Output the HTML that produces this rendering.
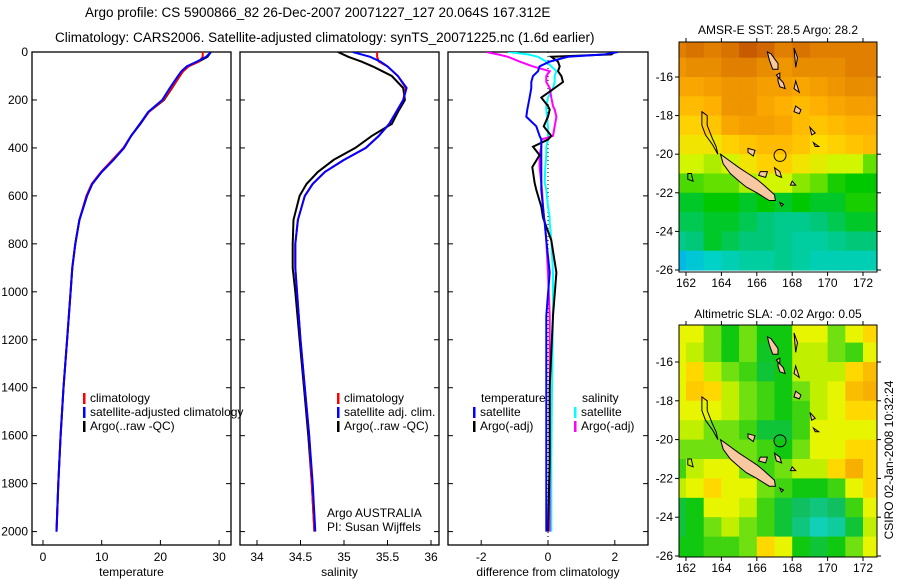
<!DOCTYPE html>
<html><head><meta charset="utf-8"><style>
body{margin:0;background:#fff;}
svg{display:block;font-family:"Liberation Sans",sans-serif;}
</style></head><body>
<svg id="chart" width="900" height="580" viewBox="0 0 900 580" xmlns="http://www.w3.org/2000/svg">
<text x="85" y="17" font-size="13.5">Argo profile: CS 5900866_82 26-Dec-2007 20071227_127 20.064S 167.312E</text>
<text x="55" y="42" font-size="13.5">Climatology: CARS2006. Satellite-adjusted climatology: synTS_20071225.nc (1.6d earlier)</text>
</svg>
<script>
// ---- profile data ----
const depths=[0,20,40,60,80,100,150,200,250,300,350,400,450,500,550,600,700,800,900,1000,1200,1400,1600,1800,2000];
const tArgo=[28.6,28.0,26.5,24.6,23.8,23.3,22.0,20.6,18.0,16.6,15.0,13.8,12.0,10.0,8.4,7.5,6.2,5.5,5.0,4.7,4.1,3.5,3.0,2.6,2.3];
const tClim=[27.2,27.2,26.6,24.8,23.9,23.3,21.9,20.5,18.0,16.5,15.0,13.7,11.8,9.9,8.3,7.4,6.2,5.5,5.0,4.7,4.1,3.5,3.0,2.6,2.3];
const tSat=[28.6,27.8,26.2,24.5,23.6,23.0,21.6,20.3,17.9,16.5,15.0,13.8,12.0,10.0,8.4,7.5,6.2,5.5,5.0,4.7,4.1,3.5,3.0,2.6,2.3];
const sArgo=[34.93,35.05,35.2,35.33,35.44,35.55,35.68,35.7,35.62,35.55,35.32,35.13,34.88,34.7,34.57,34.49,34.42,34.41,34.41,34.44,34.49,34.54,34.59,34.63,34.66];
const sClim=[35.38,35.38,35.4,35.5,35.56,35.62,35.71,35.68,35.6,35.52,35.4,35.25,35.0,34.78,34.64,34.55,34.47,34.44,34.44,34.46,34.5,34.55,34.6,34.63,34.66];
const sSat=[35.1,35.3,35.42,35.5,35.56,35.62,35.72,35.68,35.6,35.52,35.4,35.25,35.0,34.78,34.64,34.55,34.47,34.44,34.44,34.46,34.5,34.55,34.6,34.64,34.67];
const dDepths=[0,10,20,40,60,80,100,125,150,190,225,240,270,310,350,365,395,430,480,545,575,645,690,710,785,920,1100,1400,1700,2000];
const dArgoT=[2.0,1.9,0.1,0.3,0.35,0.3,0.4,0.45,0.2,-0.2,0.0,0.05,0.0,-0.13,0.1,0.0,-0.45,-0.25,-0.47,-0.4,-0.35,-0.2,-0.15,-0.1,0.1,0.25,0.15,0.05,0.05,0.0];
const dSatT=[2.1,1.7,0.6,0.05,-0.25,-0.3,-0.45,-0.5,-0.5,-0.55,-0.6,-0.62,-0.65,-0.35,-0.25,-0.2,-0.2,-0.2,-0.2,-0.2,-0.2,-0.15,-0.12,-0.1,-0.05,0.05,-0.05,-0.05,-0.05,-0.05];
const dSatS=[-1.2,-0.6,-0.3,-0.05,0.1,0.25,0.2,0.2,0.15,0.0,-0.05,-0.05,-0.03,0.0,0.0,0.0,-0.05,-0.05,-0.08,-0.1,-0.05,0.0,0.05,0.05,0.1,0.15,0.15,0.12,0.1,0.1];
const dArgoS=[-1.85,-1.5,-1.2,-0.85,-0.45,0.05,-0.05,-0.05,0.05,0.1,0.15,0.2,0.25,0.2,0.15,-0.2,-0.2,-0.25,-0.25,-0.2,-0.18,-0.15,-0.12,-0.1,-0.05,0.0,0.05,0.05,0.05,0.05];
const depthTicks=[0,200,400,600,800,1000,1200,1400,1600,1800,2000];
const tTicks=[0,10,20,30];
const sTicks=[34,34.5,35,35.5,36];
const dTicks=[-2,0,2];
// ---- map data (rows lat -14.5..-25.5, cols lon 161.5..172.5) ----
const mapLons=[161.5,162.5,163.5,164.5,165.5,166.5,167.5,168.5,169.5,170.5,171.5,172.5];
const mapLats=[-14.5,-15.5,-16.5,-17.5,-18.5,-19.5,-20.5,-21.5,-22.5,-23.5,-24.5,-25.5];
const sst=[
[29.0,29.1,29.0,29.1,29.3,29.2,29.0,29.1,29.0,29.0,29.0,29.0],
[28.8,28.9,28.9,29.0,29.0,28.9,28.8,28.9,28.9,28.9,29.0,29.0],
[28.6,28.6,28.7,28.8,28.8,28.7,28.7,28.6,28.7,28.8,28.9,28.9],
[28.4,28.4,28.5,28.8,28.8,28.6,28.5,28.4,28.5,28.6,28.7,28.7],
[28.2,28.2,28.3,28.6,28.7,28.7,28.6,28.4,28.3,28.4,28.5,28.5],
[28.0,28.0,28.0,28.2,28.3,28.4,28.4,28.3,28.1,28.2,28.3,28.4],
[27.8,27.8,27.7,27.8,28.0,28.2,28.2,28.0,27.9,27.8,27.8,27.5],
[27.4,27.4,27.5,27.5,27.7,27.8,27.8,27.6,27.5,27.2,27.1,27.1],
[27.0,27.0,27.1,27.1,27.0,27.1,27.0,27.1,27.0,27.0,27.2,27.2],
[26.9,26.9,27.0,27.0,26.9,26.8,26.7,26.7,26.8,26.9,27.0,27.0],
[26.7,26.8,27.0,26.9,26.8,26.8,26.7,26.6,26.6,26.7,26.8,26.8],
[26.2,26.3,26.4,26.5,26.6,26.6,26.7,26.6,26.5,26.5,26.5,26.5]];
const sla=[
[0.04,0.04,0.0,-0.04,0.0,-0.04,-0.04,0.04,0.04,0.0,0.04,0.06],
[0.04,0.02,0.0,-0.04,0.0,-0.05,-0.04,0.02,0.02,0.0,-0.02,0.04],
[0.04,0.06,0.02,0.0,-0.02,-0.06,-0.04,0.02,0.02,0.02,0.06,0.08],
[0.04,0.07,0.06,0.02,0.0,-0.02,-0.04,0.0,0.02,0.04,0.08,0.09],
[0.04,0.04,0.04,0.02,0.0,-0.02,-0.04,-0.02,0.02,0.04,0.06,0.06],
[0.02,0.02,0.0,0.0,-0.02,-0.06,-0.06,-0.02,0.04,0.04,0.04,0.04],
[0.0,0.0,0.0,0.0,0.0,-0.02,-0.04,0.0,0.04,0.04,0.06,0.06],
[-0.02,0.02,0.04,0.04,0.0,-0.02,0.0,0.02,0.02,0.06,0.09,0.06],
[0.02,0.04,0.06,0.04,0.04,0.0,-0.02,-0.04,-0.04,-0.02,0.04,0.06],
[-0.06,-0.04,0.04,0.04,0.02,-0.02,-0.06,-0.08,-0.10,-0.08,-0.02,0.04],
[-0.06,-0.04,0.0,0.02,0.0,-0.02,-0.06,-0.10,-0.14,-0.12,-0.06,0.02],
[-0.04,-0.04,-0.02,-0.02,0.0,0.06,0.04,-0.04,-0.06,-0.04,0.0,0.04]];
const lonTicks=[162,164,166,168,170,172];
const latTicks=[-16,-18,-20,-22,-24,-26];
const argoPos=[167.312,-20.064];

const NS="http://www.w3.org/2000/svg";
const svg=document.getElementById('chart');
function el(tag,attrs,parent){const e=document.createElementNS(NS,tag);for(const k in attrs)e.setAttribute(k,attrs[k]);(parent||svg).appendChild(e);return e;}
function txt(x,y,s,size,anchor,parent){const t=el('text',{x:x,y:y,'font-size':size,'text-anchor':anchor||'start'},parent);t.textContent=s;return t;}

const TOP=52,BOT=545;
const yD=d=>52+d*0.2398;
const panels=[
 {name:'temperature',x0:32,x1:231,fx:v=>43+v*5.87,ticks:tTicks,lab:'temperature'},
 {name:'salinity',x0:240,x1:439,fx:v=>257+(v-34)*87,ticks:sTicks,lab:'salinity'},
 {name:'difference',x0:448,x1:648,fx:v=>548+v*33.4,ticks:dTicks,lab:'difference from climatology'}];
panels.forEach((p,i)=>{
 const g=el('g',{});
 
 
 const cp=el('clipPath',{id:'cp'+i},g);el('rect',{x:p.x0,y:TOP,width:p.x1-p.x0,height:BOT-TOP},cp);
 el('rect',{x:p.x0,y:TOP,width:p.x1-p.x0,height:BOT-TOP,fill:'none',stroke:'#000','stroke-width':1.3},g);
 depthTicks.forEach(d=>{const y=yD(d);
  el('line',{x1:p.x0,x2:p.x0+5,y1:y,y2:y,stroke:'#000'},g);
  el('line',{x1:p.x1-5,x2:p.x1,y1:y,y2:y,stroke:'#000'},g);
  if(i===0){const t=txt(28,y+4,String(d),12,'end',g);}
 });
 p.ticks.forEach(v=>{const x=p.fx(v);
  el('line',{x1:x,x2:x,y1:BOT,y2:BOT-5,stroke:'#000'},g);
  const t=txt(x,561,String(v),12,'middle',g);
  
  
 });
 const xl=txt((p.x0+p.x1)/2,576,p.lab,12,'middle',g);
 
 
 p.g=g;
});
function profile(pi,ds,vals,color,name,w){
 const p=panels[pi];
 const pts=ds.map((d,k)=>p.fx(vals[k]).toFixed(1)+','+yD(d).toFixed(1)).join(' ');
 const l=el('polyline',{points:pts,fill:'none',stroke:color,'stroke-width':w||2,'clip-path':'url(#cp'+pi+')'},p.g);
 
 
}
const zl=el('line',{x1:548,x2:548,y1:TOP,y2:BOT,stroke:'#000','stroke-dasharray':'1,3'},panels[2].g);


profile(0,depths,tArgo,'#000','temp-argo-line');
profile(0,depths,tClim,'#f00','temp-climatology-line');
profile(0,depths,tSat,'#00f','temp-satellite-line');
profile(1,depths,sArgo,'#000','sal-argo-line');
profile(1,depths,sClim,'#f00','sal-climatology-line');
profile(1,depths,sSat,'#00f','sal-satellite-line');
profile(2,dDepths,dSatS,'#0ff','diff-sal-satellite-line');
profile(2,dDepths,dArgoS,'#f0f','diff-sal-argo-line');
profile(2,dDepths,dArgoT,'#000','diff-temp-argo-line');
profile(2,dDepths,dSatT,'#00f','diff-temp-satellite-line');

function legend(x,y,color,label,parent){
 const g=el('g',{},parent);
 
 
 if(color)el('rect',{x:x,y:y-9,width:2.5,height:11,fill:color},g);
 txt(x+7,y,label,12,'start',g);
}
legend(83,402,'#f00','climatology',panels[0].g);
legend(83,416,'#00f','satellite-adjusted climatology',panels[0].g);
legend(83,430,'#000','Argo(..raw -QC)',panels[0].g);
legend(337,402,'#f00','climatology',panels[1].g);
legend(337,416,'#00f','satellite adj. clim.',panels[1].g);
legend(337,430,'#000','Argo(..raw -QC)',panels[1].g);
legend(474,402,null,'temperature',panels[2].g);
legend(473,416,'#00f','satellite',panels[2].g);
legend(473,430,'#000','Argo(-adj)',panels[2].g);
legend(575,402,null,'salinity',panels[2].g);
legend(574,416,'#0ff','satellite',panels[2].g);
legend(574,430,'#f0f','Argo(-adj)',panels[2].g);
const a1=txt(327,517,'Argo AUSTRALIA',12);
const a2=txt(327,531,'PI: Susan Wijffels',12);

// ---- maps ----
function lerpColor(stops,v){
 if(v<=stops[0][0])return stops[0][1];
 for(let i=1;i<stops.length;i++){if(v<=stops[i][0]){const a=stops[i-1],b=stops[i];const t=(v-a[0])/(b[0]-a[0]);
  const c=a[1].map((x,k)=>Math.round(x+(b[1][k]-x)*t));return c;}}
 return stops[stops.length-1][1];}
const sstStops=[[26.0,[0,160,255]],[26.4,[0,210,200]],[26.8,[0,200,120]],[27.1,[0,200,0]],[27.5,[100,224,0]],[27.8,[210,245,0]],[28.1,[255,220,0]],[28.5,[255,176,0]],[28.9,[232,140,0]],[29.3,[200,90,0]]];
const slaStops=[[-0.14,[16,208,184]],[-0.08,[16,192,96]],[-0.04,[16,200,16]],[0.0,[112,224,16]],[0.02,[192,240,0]],[0.04,[232,245,0]],[0.06,[255,216,0]],[0.09,[248,176,0]]];
const islands=[
 [[163.95,-20.0],[164.4,-20.3],[165.0,-20.7],[165.5,-21.0],[166.0,-21.3],[166.4,-21.6],[167.0,-22.1],[167.05,-22.4],[166.7,-22.4],[166.0,-22.0],[165.4,-21.7],[165.0,-21.4],[164.5,-21.0],[164.1,-20.5]],
 [[166.6,-14.7],[166.8,-14.8],[167.2,-15.3],[167.2,-15.6],[166.9,-15.6],[166.7,-15.1]],
 [[167.2,-16.0],[167.5,-16.3],[167.6,-16.6],[167.3,-16.5],[167.2,-16.2]],
 [[168.2,-17.5],[168.5,-17.7],[168.4,-17.9],[168.1,-17.8]],
 [[169.0,-18.6],[169.3,-18.9],[169.1,-19.0]],
 [[169.2,-19.4],[169.5,-19.6],[169.3,-19.6]],
 [[167.0,-20.7],[167.3,-20.9],[167.4,-21.2],[167.1,-21.1]],
 [[168.0,-21.4],[168.2,-21.6],[167.9,-21.6]],
 [[166.2,-20.9],[166.6,-20.9],[166.5,-21.2],[166.1,-21.1]],
 [[165.5,-19.7],[165.9,-19.8],[165.8,-20.1],[165.5,-19.9]],
 [[167.1,-15.9],[167.3,-15.8],[167.3,-16.1]],
 [[168.1,-14.5],[168.2,-15.5],[168.3,-15.0]],
 [[168.2,-16.2],[168.4,-16.8],[168.1,-16.6]],
 [[167.3,-22.5],[167.5,-22.6],[167.4,-22.7]]];
const reefOutlines=[
 [[162.9,-17.8],[163.2,-18.0],[163.2,-18.5],[163.5,-19.2],[163.7,-19.6],[163.8,-20.0],[163.5,-19.5],[163.1,-19.0],[162.9,-18.5]],
 [[162.1,-21.0],[162.3,-21.0],[162.4,-21.4],[162.1,-21.3]]];
function drawMap(cfg){
 const g=el('g',{});
 
 
 const fx=lon=>cfg.x162+(lon-162)*cfg.sx;
 const fy=lat=>cfg.y16+(-16-lat)*cfg.sy;
 const cp=el('clipPath',{id:cfg.name+'-clip'},g);el('rect',{x:cfg.x0,y:cfg.y0,width:cfg.x1-cfg.x0,height:cfg.y1-cfg.y0},cp);
 const cg=el('g',{'clip-path':'url(#'+cfg.name+'-clip)'},g);
 mapLats.forEach((lat,r)=>mapLons.forEach((lon,c)=>{
  const col=lerpColor(cfg.stops,cfg.data[r][c]);
  const rc=el('rect',{x:fx(lon-0.5).toFixed(1),y:fy(lat+0.5).toFixed(1),width:(cfg.sx+0.6).toFixed(1),height:(cfg.sy+0.6).toFixed(1),fill:'rgb('+col.join(',')+')'},cg);
  
  
 }));
 islands.forEach(poly=>{const pp=el('polygon',{points:poly.map(p=>fx(p[0]).toFixed(1)+','+fy(p[1]).toFixed(1)).join(' '),fill:'#f8c8a0',stroke:'#000','stroke-width':1},cg);
  });
 reefOutlines.forEach(poly=>{const pp=el('polygon',{points:poly.map(p=>fx(p[0]).toFixed(1)+','+fy(p[1]).toFixed(1)).join(' '),fill:'none',stroke:'#000','stroke-width':1},cg);
  });
 const ci=el('circle',{cx:fx(argoPos[0]),cy:fy(argoPos[1]),r:6,fill:'none',stroke:'#000','stroke-width':1},cg);
 
 
 el('rect',{x:cfg.x0,y:cfg.y0,width:cfg.x1-cfg.x0,height:cfg.y1-cfg.y0,fill:'none',stroke:'#000'},g);
 lonTicks.forEach(l=>{const x=fx(l);el('line',{x1:x,x2:x,y1:cfg.y1,y2:cfg.y1+4,stroke:'#000'},g);el('line',{x1:x,x2:x,y1:cfg.y0,y2:cfg.y0-4,stroke:'#000'},g);
  const t=txt(x,cfg.y1+15,String(l),12,'middle',g);});
 latTicks.forEach(l=>{const y=fy(l);el('line',{x1:cfg.x0-4,x2:cfg.x0,y1:y,y2:y,stroke:'#000'},g);el('line',{x1:cfg.x1,x2:cfg.x1+4,y1:y,y2:y,stroke:'#000'},g);
  const t=txt(cfg.x0-6,y+4,String(l),12,'end',g);});
 const tt=txt((cfg.x0+cfg.x1)/2,cfg.titleY,cfg.title,12,'middle',g);
 
 
}
drawMap({name:'sst-map',x0:679,x1:877,y0:42,y1:272,x162:686,sx:17.7,y16:77,sy:19.3,data:sst,stops:sstStops,title:'AMSR-E SST: 28.5 Argo: 28.2',titleY:34});
drawMap({name:'sla-map',x0:679,x1:877,y0:325,y1:557,x162:686,sx:17.7,y16:362,sy:19.4,data:sla,stops:slaStops,title:'Altimetric SLA: -0.02 Argo: 0.05',titleY:318});
const cs=txt(0,0,'CSIRO 02-Jan-2008 10:32:24',12,'middle');
cs.setAttribute('transform','translate(893,460) rotate(-90)');


</script>
</body></html>
